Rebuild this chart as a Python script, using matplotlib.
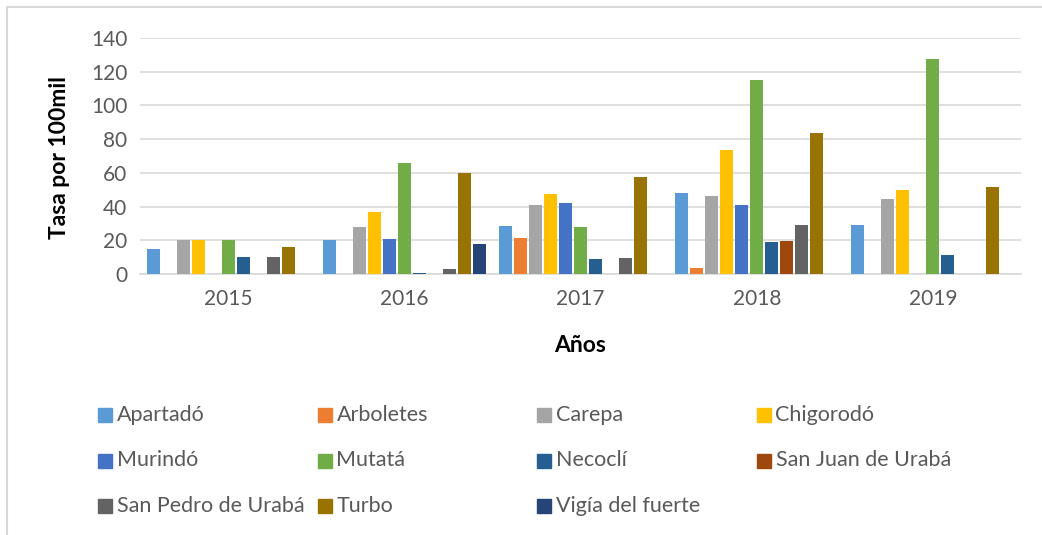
import numpy as np
import matplotlib
matplotlib.use("Agg")
import matplotlib.pyplot as plt
from matplotlib.patches import Rectangle

plt.rcParams['font.family'] = ['Lato', 'DejaVu Sans']

# datos
years = ['2015', '2016', '2017', '2018', '2019']
municipios = ['Apartadó', 'Arboletes', 'Carepa', 'Chigorodó', 'Murindó', 'Mutatá',
              'Necoclí', 'San Juan de Urabá', 'San Pedro de Urabá', 'Turbo', 'Vigía del fuerte']
apartado = [15, 20, 28.5, 48, 29]
arboletes = [0, 0, 21.5, 3.5, 0]
carepa = [20, 28, 41, 46, 44.5]
chigorodo = [20, 37, 47.5, 73.5, 50]
murindo = [0, 21, 42, 41, 0]
mutata = [20, 66, 28, 115, 127.5]
necocli = [10, 0.3, 9, 19, 11]
san_juan = [0, 0, 0, 19.5, 0]
san_pedro = [10, 3, 9.5, 29, 0]
turbo = [16, 60, 57.5, 83.5, 51.5]
vigia = [0, 18, 0, 0, 0]
series = [apartado, arboletes, carepa, chigorodo, murindo, mutata,
          necocli, san_juan, san_pedro, turbo, vigia]
colores = ['#5B9BD5', '#ED7D31', '#A5A5A5', '#FFC000', '#4472C4', '#70AD47',
           '#255E91', '#9E480E', '#636363', '#997300', '#264478']

W, H = 1042, 535
fig = plt.figure(figsize=(W / 100, H / 100), dpi=100)
ax = fig.add_axes([140 / W, 1 - 274 / H, (1021 - 140) / W, (274 - 38) / H])

x = np.arange(len(years))
slot = 15 / 176
for i, (vals, c) in enumerate(zip(series, colores)):
    ax.bar(x + (i - 5) * slot, vals, width=13 / 176, color=c, zorder=3)

ax.set_xlim(-0.5, 4.5)
ax.set_ylim(0, 140)
ax.set_yticks(range(0, 141, 20))
ax.set_xticks(x)
ax.set_xticklabels(years)
ax.tick_params(length=0, labelsize=15, labelcolor='#595959')
ax.tick_params(axis='x', pad=11)
ax.tick_params(axis='y', pad=9)
ax.grid(axis='y', color='#D9D9D9', linewidth=1.2, zorder=0)
for s in ['top', 'right', 'left']:
    ax.spines[s].set_visible(False)
ax.spines['bottom'].set_color('#D9D9D9')
ax.spines['bottom'].set_linewidth(1.2)
fig.text(59 / W, 1 - 158 / H, 'Tasa por 100mil', rotation=90, ha='center', va='center',
         fontsize=16.5, fontweight='bold')
fig.text(580 / W, 1 - 346 / H, 'Años', ha='center', va='center', fontsize=16.5, fontweight='bold')

# leyenda en columnas iguales, como en Excel
for i, (nombre, c) in enumerate(zip(municipios, colores)):
    col, row = i % 4, i // 4
    px = 98 + col * 219.5
    py = 415 + row * 45.5
    fig.add_artist(Rectangle((px / W, 1 - (py + 7) / H), 14 / W, 14 / H,
                             transform=fig.transFigure, color=c))
    fig.text((px + 19) / W, 1 - py / H, nombre, fontsize=15.5, color='#595959',
             va='center', ha='left')

# borde del gráfico
fig.add_artist(Rectangle((7 / W, -0.1), 1.2, 1 - 7 / H + 0.1, transform=fig.transFigure,
                         fill=False, edgecolor='#D9D9D9', linewidth=1.5))

fig.savefig('out.png', dpi=100)
